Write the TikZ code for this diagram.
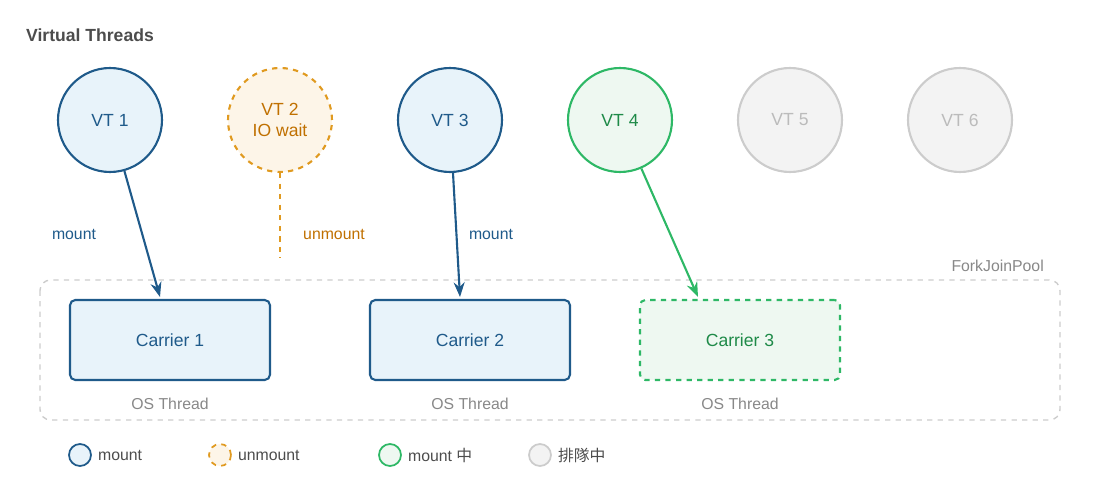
\documentclass[tikz,border=0pt]{standalone}
\usepackage{fontspec}
\setmainfont{Liberation Sans}
\newfontfamily\cjk{Noto Sans CJK TC}
\usetikzlibrary{positioning, arrows.meta}
\definecolor{vtblue}{HTML}{1F5A8A}
\definecolor{vtbluefill}{HTML}{E8F3FA}
\definecolor{vtorange}{HTML}{E09A20}
\definecolor{vtorangetext}{HTML}{C07000}
\definecolor{vtorangefill}{HTML}{FDF5E8}
\definecolor{vtgreen}{HTML}{2EB866}
\definecolor{vtgreentext}{HTML}{1E8A48}
\definecolor{vtgreenfill}{HTML}{EEF8F1}
\definecolor{vtgray}{HTML}{CCCCCC}
\definecolor{vtgrayfill}{HTML}{F3F3F3}
\definecolor{vtgraytext}{HTML}{BBBBBB}
\definecolor{labelgray}{HTML}{888888}
\begin{document}
\begin{tikzpicture}[
    x=0.02cm, y=-0.02cm,
    vt/.style={circle,minimum size=2.08cm,inner sep=0pt,line width=1.2pt,font=\fontsize{10}{12}\selectfont,align=center},
    running/.style={vt,draw=vtblue,fill=vtbluefill,text=vtblue},
    waiting/.style={vt,draw=vtorange,fill=vtorangefill,text=vtorangetext,dashed},
    starting/.style={vt,draw=vtgreen,fill=vtgreenfill,text=vtgreentext},
    queued/.style={vt,draw=vtgray,fill=vtgrayfill,text=vtgraytext},
    carrier/.style={rectangle,rounded corners=3pt,minimum width=4cm,minimum height=1.6cm,line width=1.2pt,font=\fontsize{10}{12}\selectfont},
    oslabel/.style={text=labelgray,font=\fontsize{9}{11}\selectfont},
    edgelabel/.style={font=\fontsize{9}{11}\selectfont},
    legend/.style={circle,minimum size=0.44cm,inner sep=0pt,line width=1pt},
    legendtext/.style={anchor=west,text=black!70,font=\fontsize{9}{11}\selectfont}
]
\useasboundingbox (0,0) rectangle (1100,480);

% Title
\node[anchor=west,text=black!70,font=\fontsize{10}{12}\selectfont\bfseries] (title) at (20,35) {Virtual Threads};

% Virtual threads
\node[running] (vt1) at (110,120) {VT 1};
\node[waiting] (vt2) at (280,120) {VT 2\\IO wait};
\node[running] (vt3) at (450,120) {VT 3};
\node[starting] (vt4) at (620,120) {VT 4};
\node[queued] (vt5) at (790,120) {VT 5};
\node[queued] (vt6) at (960,120) {VT 6};

% ForkJoinPool
\draw[vtgray,dashed,rounded corners=6pt,line width=0.8pt] (40,280) rectangle (1060,420);
\node[anchor=east,text=labelgray,font=\fontsize{9}{11}\selectfont] (pool) at (1050,266) {ForkJoinPool};

% Carriers
\node[carrier,draw=vtblue,fill=vtbluefill,text=vtblue] (c1) at (170,340) {Carrier 1};
\node[carrier,draw=vtblue,fill=vtbluefill,text=vtblue] (c2) at (470,340) {Carrier 2};
\node[carrier,draw=vtgreen,fill=vtgreenfill,text=vtgreentext,dashed] (c3) at (740,340) {Carrier 3};
\node[oslabel] (os1) at (170,404) {OS Thread};
\node[oslabel] (os2) at (470,404) {OS Thread};
\node[oslabel] (os3) at (740,404) {OS Thread};

% Mount / unmount
\coordinate (m1) at (160,297);
\coordinate (m2) at (460,297);
\coordinate (m3) at (698,297);
\coordinate (u2) at (280,258);
\draw[-Stealth,vtblue,line width=1.2pt] (vt1) -- (m1);
\draw[-Stealth,vtblue,line width=1.2pt] (vt3) -- (m2);
\draw[-Stealth,vtgreen,line width=1.2pt] (vt4) -- (m3);
\draw[vtorange,dashed,line width=1.2pt] (vt2) -- (u2);
\node[edgelabel,text=vtblue] (l1) at (74,234) {mount};
\node[edgelabel,text=vtblue] (l3) at (491,234) {mount};
\node[edgelabel,text=vtorangetext] (l2) at (334,234) {unmount};

% Legend
\node[legend,draw=vtblue,fill=vtbluefill] (k1) at (80,455) {};
\node[legendtext] at (k1.east) {mount};
\node[legend,draw=vtorange,fill=vtorangefill,dashed] (k2) at (220,455) {};
\node[legendtext] at (k2.east) {unmount};
\node[legend,draw=vtgreen,fill=vtgreenfill] (k3) at (390,455) {};
\node[legendtext] at (k3.east) {mount {\cjk 中}};
\node[legend,draw=vtgray,fill=vtgrayfill] (k4) at (540,455) {};
\node[legendtext] at (k4.east) {\cjk 排隊中};
\end{tikzpicture}
\end{document}
